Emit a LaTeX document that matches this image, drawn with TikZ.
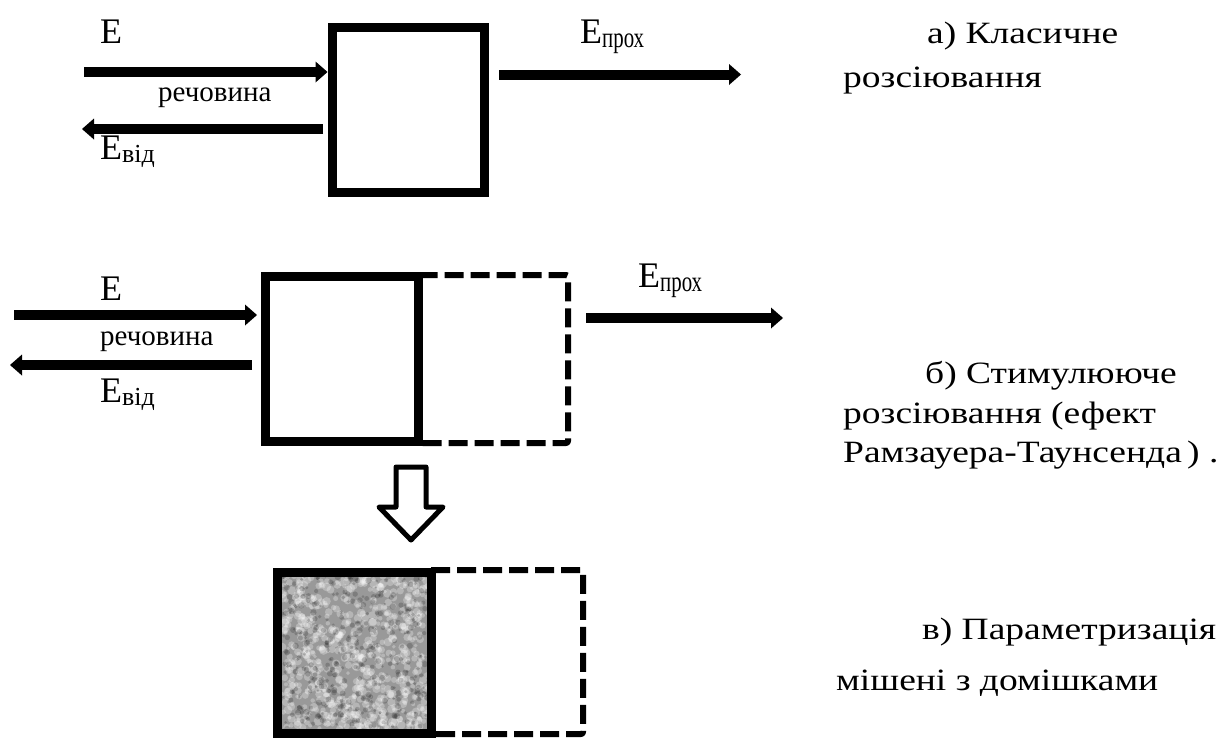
\documentclass[tikz,border=0pt]{standalone}
\usepackage{fontspec}
\setmainfont{Liberation Serif}
\newfontfamily\widefont[FakeStretch=1.21]{Liberation Serif}
\usetikzlibrary{arrows.meta}

\tikzset{
  fatarrow/.style={line width=10pt, -{Triangle[length=12pt,width=21pt,line width=0pt]}},
  solidbox/.style={draw, line width=9pt, inner sep=0pt, outer sep=4.5pt},
  dashbox/.style={line width=6pt, dash pattern=on 19pt off 7pt, line join=round},
  hollowarrow/.style={line width=5pt, line join=round, fill=white},
  bigE/.style={anchor=base west, inner sep=0pt, font=\fontsize{36}{40}\selectfont},
  matter/.style={anchor=base west, inner sep=0pt, font=\fontsize{29}{32}\selectfont},
  caption/.style={anchor=base west, inner sep=0pt, font=\widefont\fontsize{31}{34}\selectfont},
}
\newcommand{\subvid}{\raisebox{-3pt}{\fontsize{26}{28}\selectfont від}}
\newcommand{\subprox}{\raisebox{-4pt}{\scalebox{0.72}[1]{\fontsize{29}{32}\selectfont прох}}}

\begin{document}
\begin{tikzpicture}[x=1pt, y=-1pt]
\useasboundingbox (0,0) rectangle (1220,737);

% ---------- a) classical scattering ----------
\node[solidbox, minimum width=152pt, minimum height=164.5pt] (boxA) at (408,109.75) {};
\coordinate (inA) at (84,72);
\coordinate (outAs) at (323,129);
\coordinate (outAe) at (82,129);
\coordinate (prAs) at (499,74.5);
\coordinate (prAe) at (741,74.5);
\draw[fatarrow] (inA) -- (boxA.west |- inA);
\draw[fatarrow] (outAs) -- (outAe);
\draw[fatarrow] (prAs) -- (prAe);
\node[bigE] (eA) at (100,43) {E};
\node[matter] (mA) at (158,101) {речовина};
\node[bigE] (evA) at (100,159) {E\subvid};
\node[bigE] (epA) at (580,43) {E\subprox};

% ---------- b) stimulated scattering ----------
\node[solidbox, minimum width=153pt, minimum height=165pt] (boxB) at (342,359) {};
\coordinate (dB1) at (418.5,275);
\coordinate (dB2) at (568,275);
\coordinate (dB3) at (568,443);
\coordinate (dB4) at (418.5,443);
\draw[dashbox, rounded corners=2pt] (dB1) -- (dB2) -- (dB3) -- (dB4);
\coordinate (inBs) at (14,315);
\coordinate (inBe) at (257,315);
\coordinate (outBs) at (252,365);
\coordinate (outBe) at (10,365);
\coordinate (prBs) at (586,318);
\coordinate (prBe) at (783,318);
\draw[fatarrow] (inBs) -- (inBe);
\draw[fatarrow] (outBs) -- (outBe);
\draw[fatarrow] (prBs) -- (prBe);
\node[bigE] (eB) at (100,300) {E};
\node[matter] (mB) at (100,345) {речовина};
\node[bigE] (evB) at (100,402) {E\subvid};
\node[bigE] (epB) at (638,287) {E\subprox};

% ---------- hollow transition arrow ----------
\draw[hollowarrow] (396,467) -- (426,467) -- (426,507) -- (443,507) -- (411,540)
  -- (379,507) -- (396,507) -- cycle;

% ---------- c) target with impurities (grainy fill) ----------
\begin{scope}
  \clip (282,576) rectangle (427,729);
  \fill[black!40] (282,576) rectangle (427,729);
  \pgfmathsetseed{17}
  \foreach \i in {1,...,700}{
    \pgfmathsetmacro\xx{282+145*rnd}
    \pgfmathsetmacro\yy{576+153*rnd}
    \pgfmathsetmacro\rr{1.8+2.6*rnd}
    \fill[white, opacity=0.28] (\xx,\yy) circle[radius=\rr pt];
  }
  \foreach \i in {1,...,380}{
    \pgfmathsetmacro\xx{282+145*rnd}
    \pgfmathsetmacro\yy{576+153*rnd}
    \pgfmathsetmacro\rr{1.2+2.0*rnd}
    \fill[black, opacity=0.18] (\xx,\yy) circle[radius=\rr pt];
  }
\end{scope}
\node[solidbox, minimum width=153.5pt, minimum height=161pt] (boxC) at (354.25,652.5) {};
\coordinate (dC1) at (431,570);
\coordinate (dC2) at (583,570);
\coordinate (dC3) at (583,734);
\coordinate (dC4) at (431,734);
\draw[dashbox, rounded corners=2pt] (dC1) -- (dC2) -- (dC3) -- (dC4);

% ---------- captions ----------
\node[caption] (ta1) at (927,43) {а) Класичне};
\node[caption] (ta2) at (843,87) {розсіювання};
\node[caption] (tb1) at (925,383) {б) Стимулююче};
\node[caption] (tb2) at (843,423) {розсіювання (ефект};
\node[caption] (tb3) at (843,462) {Рамзауера-Таунсенда\,)\ .};
\node[caption] (tc1) at (922,639) {в) Параметризація};
\node[caption] (tc2) at (836,690) {мішені з домішками};
\end{tikzpicture}
\end{document}
